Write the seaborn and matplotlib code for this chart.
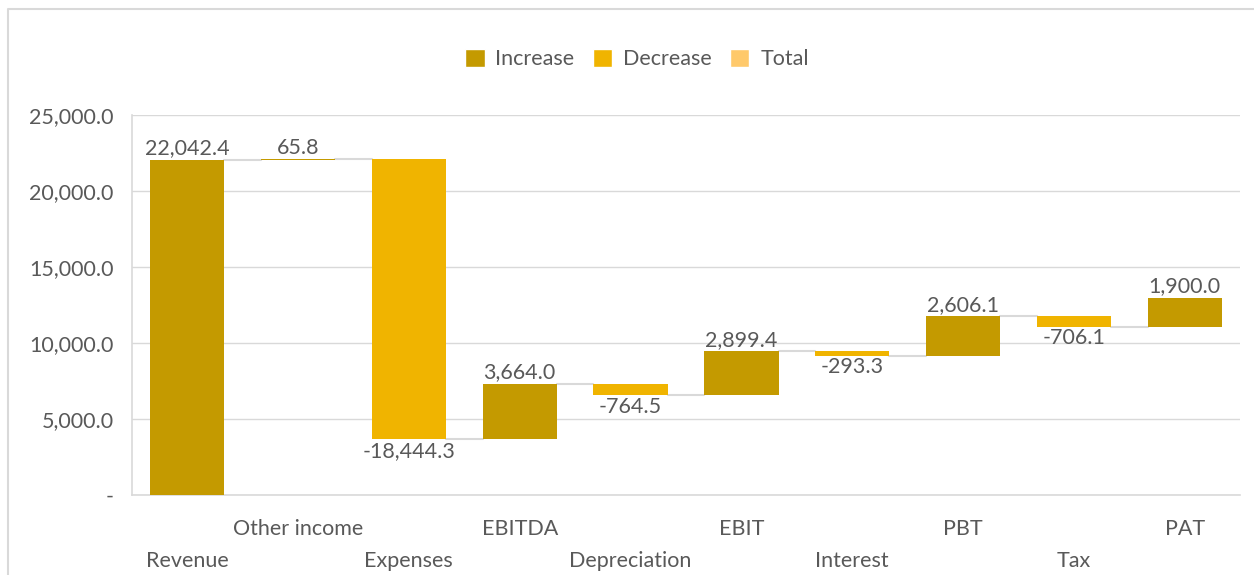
import matplotlib
matplotlib.use('Agg')
import matplotlib.pyplot as plt
from matplotlib.patches import Patch
from matplotlib.lines import Line2D
from matplotlib.ticker import FuncFormatter
import numpy as np
import pandas as pd
import seaborn as sns

# data
categories = ['Revenue', 'Other income', 'Expenses', 'EBITDA', 'Depreciation',
              'EBIT', 'Interest', 'PBT', 'Tax', 'PAT']
values = [22042.4, 65.8, -18444.3, 3664.0, -764.5, 2899.4, -293.3, 2606.1, -706.1, 1900.0]

INC = '#C49A00'
DEC = '#F0B400'
TOT = '#FFC96B'
TXT = '#595959'
GRID = '#D9D9D9'
FS = 15.5

ends = np.cumsum(values)
starts = ends - np.array(values)
df = pd.DataFrame({
    'category': categories,
    'height': np.abs(values),
    'bottom': np.minimum(starts, ends),
    'top': np.maximum(starts, ends),
    'kind': ['Increase' if v >= 0 else 'Decrease' for v in values],
})

sns.set_style('white')
plt.rcParams['font.family'] = ['Lato', 'DejaVu Sans']

fig = plt.figure(figsize=(12.54, 5.75), dpi=100)
# outer frame (left and top only, as in the source)
fig.add_artist(Line2D([8 / 1254, 8 / 1254, 1], [0, 1 - 9 / 575, 1 - 9 / 575],
                      transform=fig.transFigure, color=GRID, lw=1.5))
ax = fig.add_axes([0.105, 0.139, 0.884, 0.661])

width = 0.67
sns.barplot(data=df, x='category', y='height', order=categories, width=width,
            bottom=df['bottom'].values, errorbar=None, color=INC, saturation=1,
            ax=ax, zorder=3)
for patch, kind in zip(ax.patches, df['kind']):
    patch.set_facecolor(INC if kind == 'Increase' else DEC)
    patch.set_edgecolor('none')

# connectors between bars
for i in range(len(categories) - 1):
    ax.plot([i + width / 2, i + 1 - width / 2], [ends[i], ends[i]],
            color=GRID, lw=1.5, zorder=2)

# value labels
for i, row in df.iterrows():
    v = values[i]
    if v >= 0:
        ax.annotate(f'{v:,.1f}', (i, row['top']), xytext=(0, 1),
                    textcoords='offset points', ha='center', va='bottom',
                    fontsize=FS, color=TXT)
    else:
        ax.annotate(f'{v:,.1f}', (i, row['bottom']), xytext=(0, -1),
                    textcoords='offset points', ha='center', va='top',
                    fontsize=FS, color=TXT)

ax.set_ylim(0, 25000)
ax.set_xlim(-0.5, len(categories) - 0.5)
ax.set_yticks(np.arange(0, 25001, 5000))
ax.yaxis.set_major_formatter(FuncFormatter(lambda v, p: '-' if v == 0 else f'{v:,.1f}'))
ax.yaxis.grid(True, color=GRID, lw=1, zorder=0)
ax.set_axisbelow(True)

ticklabels = [('\n' + c) if i % 2 == 0 else c for i, c in enumerate(categories)]
ax.set_xticks(range(len(categories)))
ax.set_xticklabels(ticklabels, fontsize=FS, color=TXT, linespacing=1.75)
ax.tick_params(axis='x', length=0, pad=17)
ax.tick_params(axis='y', length=0, pad=13, labelsize=FS, labelcolor=TXT)
ax.set_xlabel('')
ax.set_ylabel('')

for s in ['top', 'right']:
    ax.spines[s].set_visible(False)
for s in ['left', 'bottom']:
    ax.spines[s].set_color(GRID)
    ax.spines[s].set_linewidth(1.2)

handles = [Patch(facecolor=INC, label='Increase'),
           Patch(facecolor=DEC, label='Decrease'),
           Patch(facecolor=TOT, label='Total')]
leg = fig.legend(handles=handles, loc='center', bbox_to_anchor=(0.508, 0.897),
                 ncol=3, frameon=False, fontsize=FS, handlelength=0.9,
                 handleheight=0.9, handletextpad=0.5, columnspacing=0.85)
for t in leg.get_texts():
    t.set_color(TXT)

fig.savefig('out.png', dpi=100)
